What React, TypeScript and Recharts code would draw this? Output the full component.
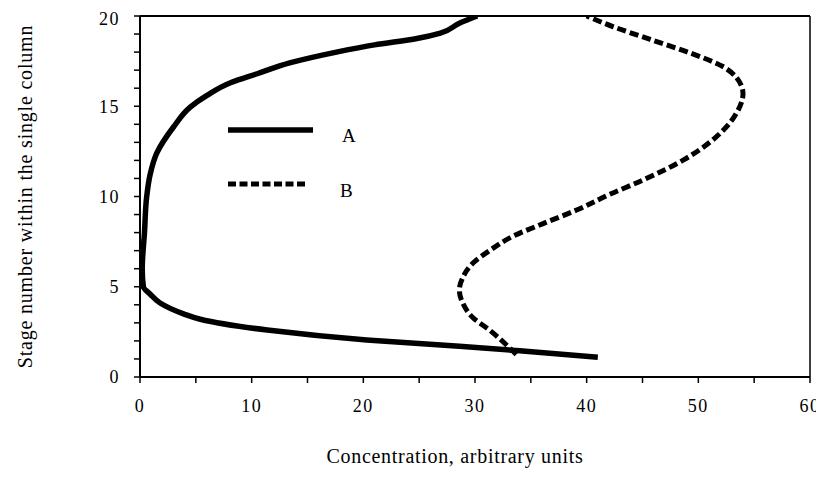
import React from 'react';
import {
  LineChart,
  Line,
  XAxis,
  YAxis,
  Label,
  ReferenceLine
} from 'recharts';

// concentration (c) vs stage number (s)
const SERIES_A = [
  { c: 41.0, s: 1.1 },
  { c: 34.0, s: 1.45 },
  { c: 28.6, s: 1.7 },
  { c: 20.3, s: 2.05 },
  { c: 11.4, s: 2.6 },
  { c: 5.4, s: 3.2 },
  { c: 3.9, s: 3.5 },
  { c: 1.8, s: 4.1 },
  { c: 0.9, s: 4.6 },
  { c: 0.3, s: 5.0 },
  { c: 0.2, s: 6.0 },
  { c: 0.4, s: 8.0 },
  { c: 0.6, s: 10.0 },
  { c: 0.9, s: 11.2 },
  { c: 1.5, s: 12.4 },
  { c: 3.0, s: 13.85 },
  { c: 4.5, s: 14.95 },
  { c: 6.0, s: 15.6 },
  { c: 8.1, s: 16.3 },
  { c: 10.5, s: 16.8 },
  { c: 13.4, s: 17.4 },
  { c: 17.6, s: 18.0 },
  { c: 21.0, s: 18.4 },
  { c: 24.8, s: 18.75 },
  { c: 26.9, s: 19.05 },
  { c: 28.6, s: 19.6 },
  { c: 30.2, s: 20.0 }
];

const SERIES_B = [
  { c: 33.7, s: 1.25 },
  { c: 31.3, s: 2.6 },
  { c: 29.8, s: 3.3 },
  { c: 28.9, s: 4.1 },
  { c: 28.6, s: 4.8 },
  { c: 28.9, s: 5.5 },
  { c: 29.8, s: 6.3 },
  { c: 31.3, s: 7.0 },
  { c: 33.4, s: 7.8 },
  { c: 36.1, s: 8.5 },
  { c: 39.1, s: 9.25 },
  { c: 42.0, s: 10.1 },
  { c: 45.0, s: 10.9 },
  { c: 48.6, s: 12.0 },
  { c: 51.6, s: 13.3 },
  { c: 53.4, s: 14.6 },
  { c: 54.0, s: 15.7 },
  { c: 53.4, s: 16.6 },
  { c: 52.2, s: 17.2 },
  { c: 49.5, s: 17.9 },
  { c: 45.7, s: 18.7 },
  { c: 42.4, s: 19.4 },
  { c: 40.0, s: 20.0 }
];

const X_TICKS = [0, 5, 10, 15, 20, 25, 30, 35, 40, 45, 50, 55, 60];
const X_LABELS = [0, 10, 20, 30, 40, 50, 60];
const Y_TICKS = Array.from({ length: 21 }, (_, i) => i);
const Y_LABELS = [0, 5, 10, 15, 20];

const FONT = '"Liberation Serif", "DejaVu Serif", serif';
const INK = '#000';

const tickStyle = { fill: INK, fontSize: 18, fontFamily: FONT, letterSpacing: 1.5 };

// legend drawn over the plot, like the original figure
const LegendBox = () => (
  <svg width={140} height={90} style={{ position: 'absolute', left: 220, top: 110 }}>
    <line x1={0} y1={12} x2={85} y2={12} stroke={INK} strokeWidth={5.5} />
    <text x={114} y={24} fontSize={19} fontFamily={FONT} fill={INK}>A</text>
    <line x1={0} y1={66} x2={80} y2={66} stroke={INK} strokeWidth={5} strokeDasharray="8 3.5" />
    <text x={112} y={79} fontSize={19} fontFamily={FONT} fill={INK}>B</text>
  </svg>
);

const YTitle = ({ viewBox }: any) => {
  const cy = viewBox.y + viewBox.height / 2;
  return (
    <text
      x={17}
      y={cy}
      transform={`rotate(-90, 17, ${cy})`}
      textAnchor="middle"
      dominantBaseline="central"
      fontSize={20}
      letterSpacing={0.8}
      fontFamily={FONT}
      fill={INK}
    >
      Stage number within the single column
    </text>
  );
};

const XTitle = () => (
  <text
    x={447}
    y={455}
    textAnchor="middle"
    fontSize={20}
    letterSpacing={0.7}
    fontFamily={FONT}
    fill={INK}
  >
    Concentration, arbitrary units
  </text>
);

export default function App() {
  return (
    <div style={{ position: 'relative', background: '#fff', width: 816, height: 461 }}>
      <style>{'html,body{overflow:hidden} .recharts-surface{overflow:visible}'}</style>
      <LineChart
        width={816}
        height={461}
        layout="vertical"
        margin={{ top: 8, right: 14, bottom: 62, left: 0 }}
      >
        <XAxis
          type="number"
          dataKey="c"
          domain={[0, 60]}
          ticks={X_TICKS}
          tickFormatter={(v: number) => (X_LABELS.includes(v) ? String(v) : '')}
          allowDataOverflow
          height={30}
          tickSize={6}
          tickMargin={16}
          tick={tickStyle}
          axisLine={{ stroke: INK, strokeWidth: 2 }}
          tickLine={{ stroke: INK, strokeWidth: 1.5 }}
        >
          <Label content={<XTitle />} />
        </XAxis>
        <YAxis
          type="number"
          dataKey="s"
          domain={[0, 20]}
          reversed
          ticks={Y_TICKS}
          tickFormatter={(v: number) => (Y_LABELS.includes(v) ? String(v) : '')}
          allowDataOverflow
          width={132}
          tickSize={6}
          tickMargin={14}
          tick={tickStyle}
          axisLine={{ stroke: INK, strokeWidth: 2 }}
          tickLine={{ stroke: INK, strokeWidth: 1.5 }}
        >
          <Label content={<YTitle />} />
        </YAxis>
        <ReferenceLine y={20} stroke={INK} strokeWidth={2} />
        <ReferenceLine x={60} stroke={INK} strokeWidth={1.5} />
        <Line
          data={SERIES_A}
          dataKey="c"
          type="monotone"
          stroke={INK}
          strokeWidth={5.5}
          dot={false}
          isAnimationActive={false}
        />
        <Line
          data={SERIES_B}
          dataKey="c"
          type="monotone"
          stroke={INK}
          strokeWidth={5}
          strokeDasharray="9 4"
          dot={false}
          isAnimationActive={false}
        />
      </LineChart>
      <LegendBox />
    </div>
  );
}
